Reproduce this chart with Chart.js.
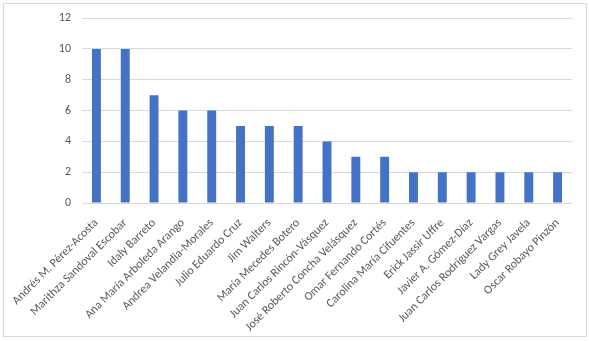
<!DOCTYPE html>
<html><head><meta charset="utf-8">
<script src="https://cdn.jsdelivr.net/npm/chart.js@4/dist/chart.umd.min.js"></script>
<style>
html,body{margin:0;padding:0;background:#fff;width:589px;height:341px;overflow:hidden}
#frame{position:absolute;left:3px;top:3px;width:582px;height:332px;border:1px solid #d9d9d9}
#wrap{position:absolute;left:0;top:0;width:589px;height:341px}
</style></head><body>
<div id="frame"></div>
<div id="wrap"><canvas id="c" width="589" height="341"></canvas></div>
<script>
const categories = ["Andrés M. Pérez-Acosta","Marithza Sandoval Escobar","Idaly Barreto","Ana María Arboleda Arango","Andrea Velandia-Morales","Julio Eduardo Cruz","Jim Walters","María Mecedes Botero","Juan Carlos Rincón-Vásquez","José Roberto Concha Velásquez","Omar Fernando Cortés","Carolina María Cifuentes","Erick Jassir Uffre","Javier A. Gómez-Díaz","Juan Carlos Rodríguez Vargas","Lady Grey Javela","Oscar Robayo Pinzón"];
const values = [10,10,7,6,6,5,5,5,4,3,3,2,2,2,2,2,2];
const yTicks = [0,2,4,6,8,10,12];
const font = {family:"Carlito, 'Liberation Sans', sans-serif", size:12};
new Chart(document.getElementById('c'), {
  type:'bar',
  data:{labels:categories, datasets:[{data:values, backgroundColor:'#4472c4', barPercentage:0.62, categoryPercentage:0.5}]},
  options:{
    responsive:false, animation:false,
    layout:{padding:{left:0,right:17,top:17,bottom:0}},
    plugins:{legend:{display:false},tooltip:{enabled:false}},
    scales:{
      x:{grid:{display:false}, border:{display:false},
         ticks:{color:'#595959', font:font, minRotation:45, maxRotation:45, autoSkip:false, padding:5},
         afterFit(s){s.height=138;}},
      y:{min:0,max:12, afterBuildTicks(s){s.ticks=yTicks.map(v=>({value:v}));},
         grid:{color:'#d9d9d9', drawTicks:false}, border:{display:false},
         ticks:{color:'#595959', font:font, padding:11},
         afterFit(s){s.width=82;}}
    }
  }
});
</script></body></html>
